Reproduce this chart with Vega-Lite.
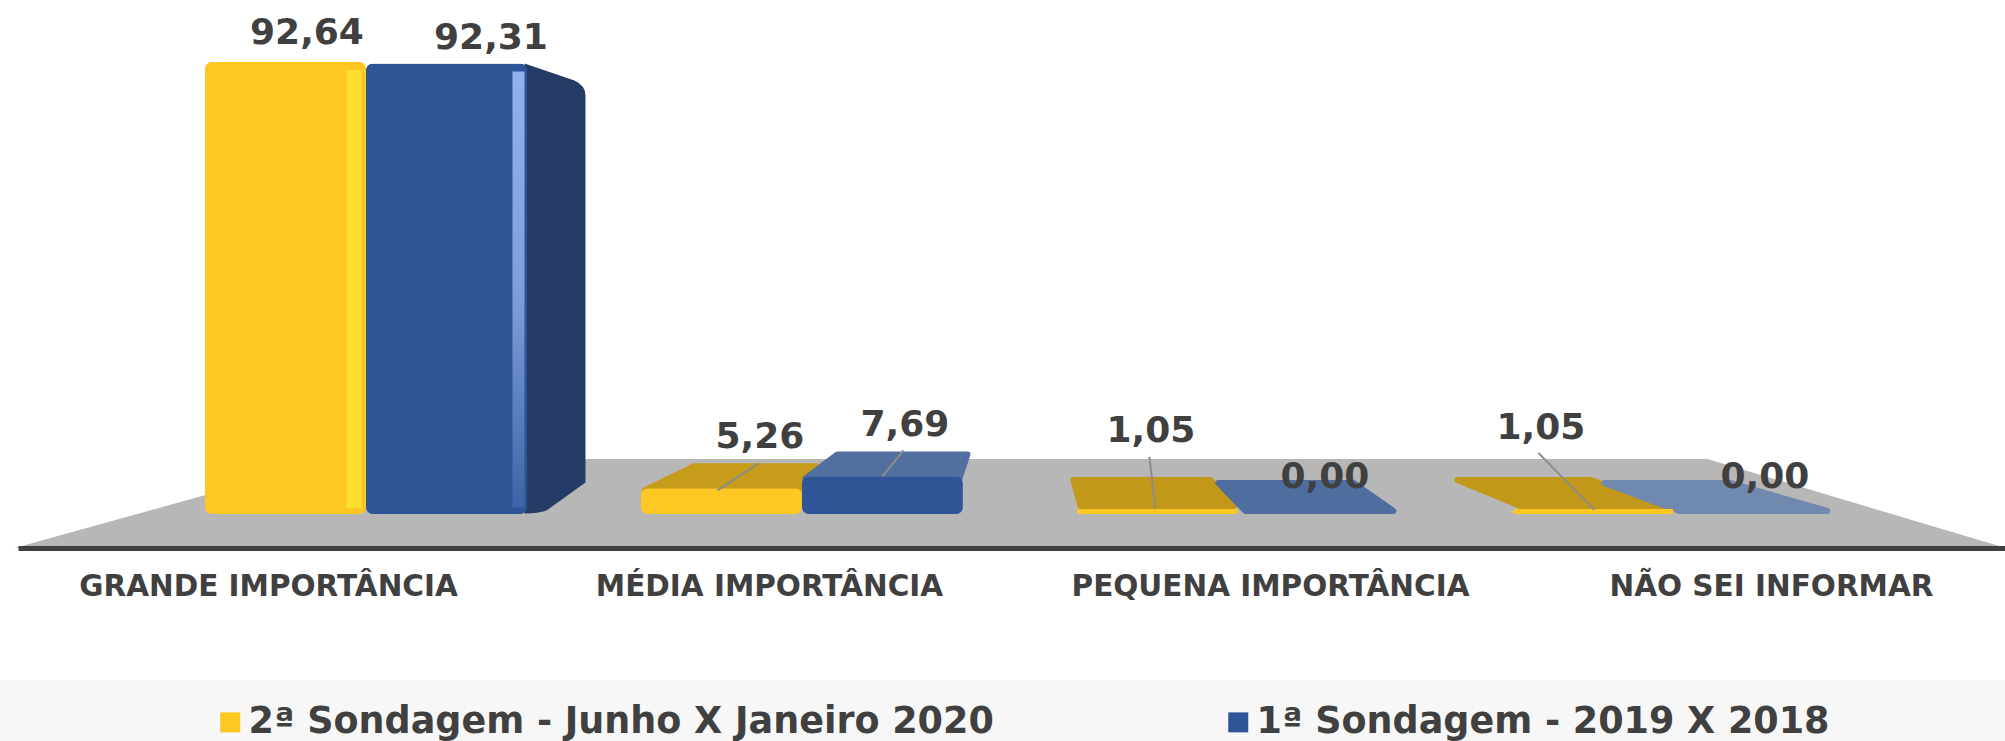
{
"$schema":"https://vega.github.io/schema/vega-lite/v6.json",
"width":2005,"height":741,"padding":0,"autosize":{"type":"none"},"background":"white",
"view":{"stroke":null},
"data":{"values":[
{"categoria":"GRANDE IMPORTÂNCIA","serie":"2ª Sondagem - Junho X Janeiro 2020","valor":92.64,"rotulo":"92,64","barra":"G2"},
{"categoria":"GRANDE IMPORTÂNCIA","serie":"1ª Sondagem - 2019 X 2018","valor":92.31,"rotulo":"92,31","barra":"G1"},
{"categoria":"MÉDIA IMPORTÂNCIA","serie":"2ª Sondagem - Junho X Janeiro 2020","valor":5.26,"rotulo":"5,26","barra":"M2"},
{"categoria":"MÉDIA IMPORTÂNCIA","serie":"1ª Sondagem - 2019 X 2018","valor":7.69,"rotulo":"7,69","barra":"M1"},
{"categoria":"PEQUENA IMPORTÂNCIA","serie":"2ª Sondagem - Junho X Janeiro 2020","valor":1.05,"rotulo":"1,05","barra":"P2"},
{"categoria":"PEQUENA IMPORTÂNCIA","serie":"1ª Sondagem - 2019 X 2018","valor":0,"rotulo":"0,00","barra":"P1"},
{"categoria":"NÃO SEI INFORMAR","serie":"2ª Sondagem - Junho X Janeiro 2020","valor":1.05,"rotulo":"1,05","barra":"N2"},
{"categoria":"NÃO SEI INFORMAR","serie":"1ª Sondagem - 2019 X 2018","valor":0,"rotulo":"0,00","barra":"N1"}
]},
"resolve":{"scale":{"x":"independent","shape":"independent","fill":"independent","stroke":"independent"}},
"layer":[
{"data":{"values":[{"elemento":"piso"},{"elemento":"faixa"}]},
 "mark":{"type":"point","filled":true,"size":4,"opacity":1,"strokeWidth":0},
 "encoding":{
  "y":{"datum":0,"scale":{"domain":[0,100],"range":[514,26]},"axis":null},
  "shape":{"field":"elemento","legend":null,"scale":{"domain":["piso","faixa"],"range":["M-988,34L-667,-55L705,-55L1003,34Z","M-1003,166L1003,166L1003,227L-1003,227Z"]}},
  "fill":{"field":"elemento","legend":null,"scale":{"domain":["piso","faixa"],"range":["#b7b7b7","#f7f7f7"]}}
 }},
{"mark":{"type":"point","opacity":0,"size":1},
 "encoding":{
  "x":{"field":"categoria","type":"nominal","sort":null,"title":null,
   "scale":{"type":"band","domain":["GRANDE IMPORTÂNCIA","MÉDIA IMPORTÂNCIA","PEQUENA IMPORTÂNCIA","NÃO SEI INFORMAR"],"range":[18,2022],"padding":0},
   "axis":{"orient":"bottom","offset":-193,"zindex":1,"labelAngle":0,"labelFont":"DejaVu Sans","labelFontSize":29.5,"labelFontWeight":"bold","labelColor":"#404040","labelPadding":24,"labelLimit":700,"ticks":false,"grid":false,"domainColor":"#404040","domainWidth":5}},
  "y":{"field":"valor","type":"quantitative"}
 }},
{"transform":[{"filter":{"field":"barra","equal":"G1"}}],
 "mark":{"type":"point","filled":true,"size":4,"opacity":1,"strokeWidth":0,"color":"#243c66","shape":"M78,0L128,17Q139,22 139,32L139,419L100,447Q92,450 78,450Z"},
 "encoding":{
  "x":{"field":"categoria","type":"nominal","sort":null,"axis":null,"scale":{"type":"band","domain":["GRANDE IMPORTÂNCIA","MÉDIA IMPORTÂNCIA","PEQUENA IMPORTÂNCIA","NÃO SEI INFORMAR"],"range":[148,1892],"paddingInner":0.261,"paddingOuter":0.1307}},
  "xOffset":{"field":"serie","sort":null,"scale":{"domain":["2ª Sondagem - Junho X Janeiro 2020","1ª Sondagem - 2019 X 2018"],"range":[0,322],"padding":0}},
  "y":{"field":"valor","type":"quantitative"}
 }},
{"transform":[{"filter":{"field":"barra","oneOf":["M2","M1","P2","P1","N2","N1"]}}],
 "mark":{"type":"point","filled":true,"size":4,"opacity":1,"strokeWidth":6,"strokeJoin":"round"},
 "encoding":{
  "x":{"field":"categoria","type":"nominal","sort":null,"axis":null,"scale":{"type":"band","domain":["GRANDE IMPORTÂNCIA","MÉDIA IMPORTÂNCIA","PEQUENA IMPORTÂNCIA","NÃO SEI INFORMAR"],"range":[148,1892],"paddingInner":0.261,"paddingOuter":0.1307}},
  "xOffset":{"field":"serie","sort":null,"scale":{"domain":["2ª Sondagem - Junho X Janeiro 2020","1ª Sondagem - 2019 X 2018"],"range":[0,322],"padding":0}},
  "y":{"field":"valor","type":"quantitative"},
  "shape":{"field":"barra","legend":null,"scale":{"domain":["M2","M1","P2","P1","N2","N1"],"range":[
   "M-77,2L-28,-22L95,-22L77,2Z",
   "M-77,2L-45,-22L85,-22L77,2Z",
   "M-77,-3L-84,-29L53,-29L77,-3Z",
   "M-73,-3L-100,-31L35,-31L75,-3Z",
   "M-73,-3L-136,-29L-3,-29L71,-3Z",
   "M-75,-3L-150,-31L-24,-31L73,-3Z"]}},
  "fill":{"field":"barra","legend":null,"scale":{"domain":["M2","M1","P2","P1","N2","N1"],"range":["#c79c1a","#52709f","#c2981a","#4f6d9e","#c2981a","#7089ae"]}},
  "stroke":{"field":"barra","legend":null,"scale":{"domain":["M2","M1","P2","P1","N2","N1"],"range":["#c79c1a","#52709f","#c2981a","#4f6d9e","#c2981a","#7089ae"]}}
 }},
{"transform":[{"filter":{"field":"valor","gt":0}}],
 "mark":{"type":"bar","cornerRadius":7},
 "encoding":{
  "x":{"field":"categoria","type":"nominal","sort":null,"axis":null,"scale":{"type":"band","domain":["GRANDE IMPORTÂNCIA","MÉDIA IMPORTÂNCIA","PEQUENA IMPORTÂNCIA","NÃO SEI INFORMAR"],"range":[148,1892],"paddingInner":0.261,"paddingOuter":0.1307}},
  "xOffset":{"field":"serie","sort":null,"scale":{"domain":["2ª Sondagem - Junho X Janeiro 2020","1ª Sondagem - 2019 X 2018"],"range":[0,322],"padding":0}},
  "y":{"field":"valor","type":"quantitative"},
  "color":{"field":"serie","sort":null,"scale":{"domain":["2ª Sondagem - Junho X Janeiro 2020","1ª Sondagem - 2019 X 2018"],"range":["#fec722","#2f5597"]},
   "legend":{"orient":"none","legendX":212,"legendY":704,"direction":"horizontal","columns":2,"title":null,"symbolType":"square","symbolSize":400,"symbolStrokeWidth":0,"labelFont":"DejaVu Sans","labelFontSize":36.5,"labelFontWeight":"bold","labelColor":"#404040","labelOffset":0,"labelLimit":900,"columnPadding":226,"padding":0}}
 }},
{"transform":[{"filter":{"field":"barra","equal":"G2"}}],
 "mark":{"type":"point","filled":true,"size":4,"opacity":1,"strokeWidth":0,"color":"#fde02f","shape":"M61,8L76,8L76,446L61,446Z"},
 "encoding":{
  "x":{"field":"categoria","type":"nominal","sort":null,"axis":null,"scale":{"type":"band","domain":["GRANDE IMPORTÂNCIA","MÉDIA IMPORTÂNCIA","PEQUENA IMPORTÂNCIA","NÃO SEI INFORMAR"],"range":[148,1892],"paddingInner":0.261,"paddingOuter":0.1307}},
  "xOffset":{"field":"serie","sort":null,"scale":{"domain":["2ª Sondagem - Junho X Janeiro 2020","1ª Sondagem - 2019 X 2018"],"range":[0,322],"padding":0}},
  "y":{"field":"valor","type":"quantitative"}
 }},
{"transform":[{"filter":{"field":"barra","equal":"G1"}}],
 "mark":{"type":"point","filled":true,"size":4,"opacity":1,"strokeWidth":0,"shape":"M66,8L78,8L78,444L66,444Z",
  "fill":{"gradient":"linear","x1":0,"y1":0,"x2":0,"y2":1,"stops":[{"offset":0,"color":"#8fb1ee"},{"offset":0.5,"color":"#7f9fdc"},{"offset":1,"color":"#3d64a8"}]}},
 "encoding":{
  "x":{"field":"categoria","type":"nominal","sort":null,"axis":null,"scale":{"type":"band","domain":["GRANDE IMPORTÂNCIA","MÉDIA IMPORTÂNCIA","PEQUENA IMPORTÂNCIA","NÃO SEI INFORMAR"],"range":[148,1892],"paddingInner":0.261,"paddingOuter":0.1307}},
  "xOffset":{"field":"serie","sort":null,"scale":{"domain":["2ª Sondagem - Junho X Janeiro 2020","1ª Sondagem - 2019 X 2018"],"range":[0,322],"padding":0}},
  "y":{"field":"valor","type":"quantitative"}
 }},
{"transform":[{"filter":{"field":"barra","oneOf":["M2","M1","P2","N2"]}}],
 "mark":{"type":"point","filled":false,"size":4,"opacity":1,"strokeWidth":2,"color":"#8c8c8c"},
 "encoding":{
  "x":{"field":"categoria","type":"nominal","sort":null,"axis":null,"scale":{"type":"band","domain":["GRANDE IMPORTÂNCIA","MÉDIA IMPORTÂNCIA","PEQUENA IMPORTÂNCIA","NÃO SEI INFORMAR"],"range":[148,1892],"paddingInner":0.261,"paddingOuter":0.1307}},
  "xOffset":{"field":"serie","sort":null,"scale":{"domain":["2ª Sondagem - Junho X Janeiro 2020","1ª Sondagem - 2019 X 2018"],"range":[0,322],"padding":0}},
  "y":{"field":"valor","type":"quantitative"},
  "shape":{"field":"barra","legend":null,"scale":{"domain":["M2","M1","P2","N2"],"range":["M-4,2L37,-25","M0,0L21,-26","M-2,0L-8,-52","M1,1L-55,-56"]}}
 }},
{"mark":{"type":"text","font":"DejaVu Sans","fontSize":36,"fontWeight":"bold","color":"#404040","align":"center","baseline":"middle",
  "dx":{"expr":"({G2:21.5,G1:44.5,M2:38.5,M1:22.5,P2:-6.5,P1:6.5,N2:-52.5,N1:10.5})[datum.barra]"},
  "dy":{"expr":"({G2:-29,G1:-25.5,M2:-51,M1:-51.5,P2:-78,P1:-37,N2:-81,N1:-37})[datum.barra]"}},
 "encoding":{
  "x":{"field":"categoria","type":"nominal","sort":null,"axis":null,"scale":{"type":"band","domain":["GRANDE IMPORTÂNCIA","MÉDIA IMPORTÂNCIA","PEQUENA IMPORTÂNCIA","NÃO SEI INFORMAR"],"range":[148,1892],"paddingInner":0.261,"paddingOuter":0.1307}},
  "xOffset":{"field":"serie","sort":null,"scale":{"domain":["2ª Sondagem - Junho X Janeiro 2020","1ª Sondagem - 2019 X 2018"],"range":[0,322],"padding":0}},
  "y":{"field":"valor","type":"quantitative"},
  "text":{"field":"rotulo"}
 }}
]
}
